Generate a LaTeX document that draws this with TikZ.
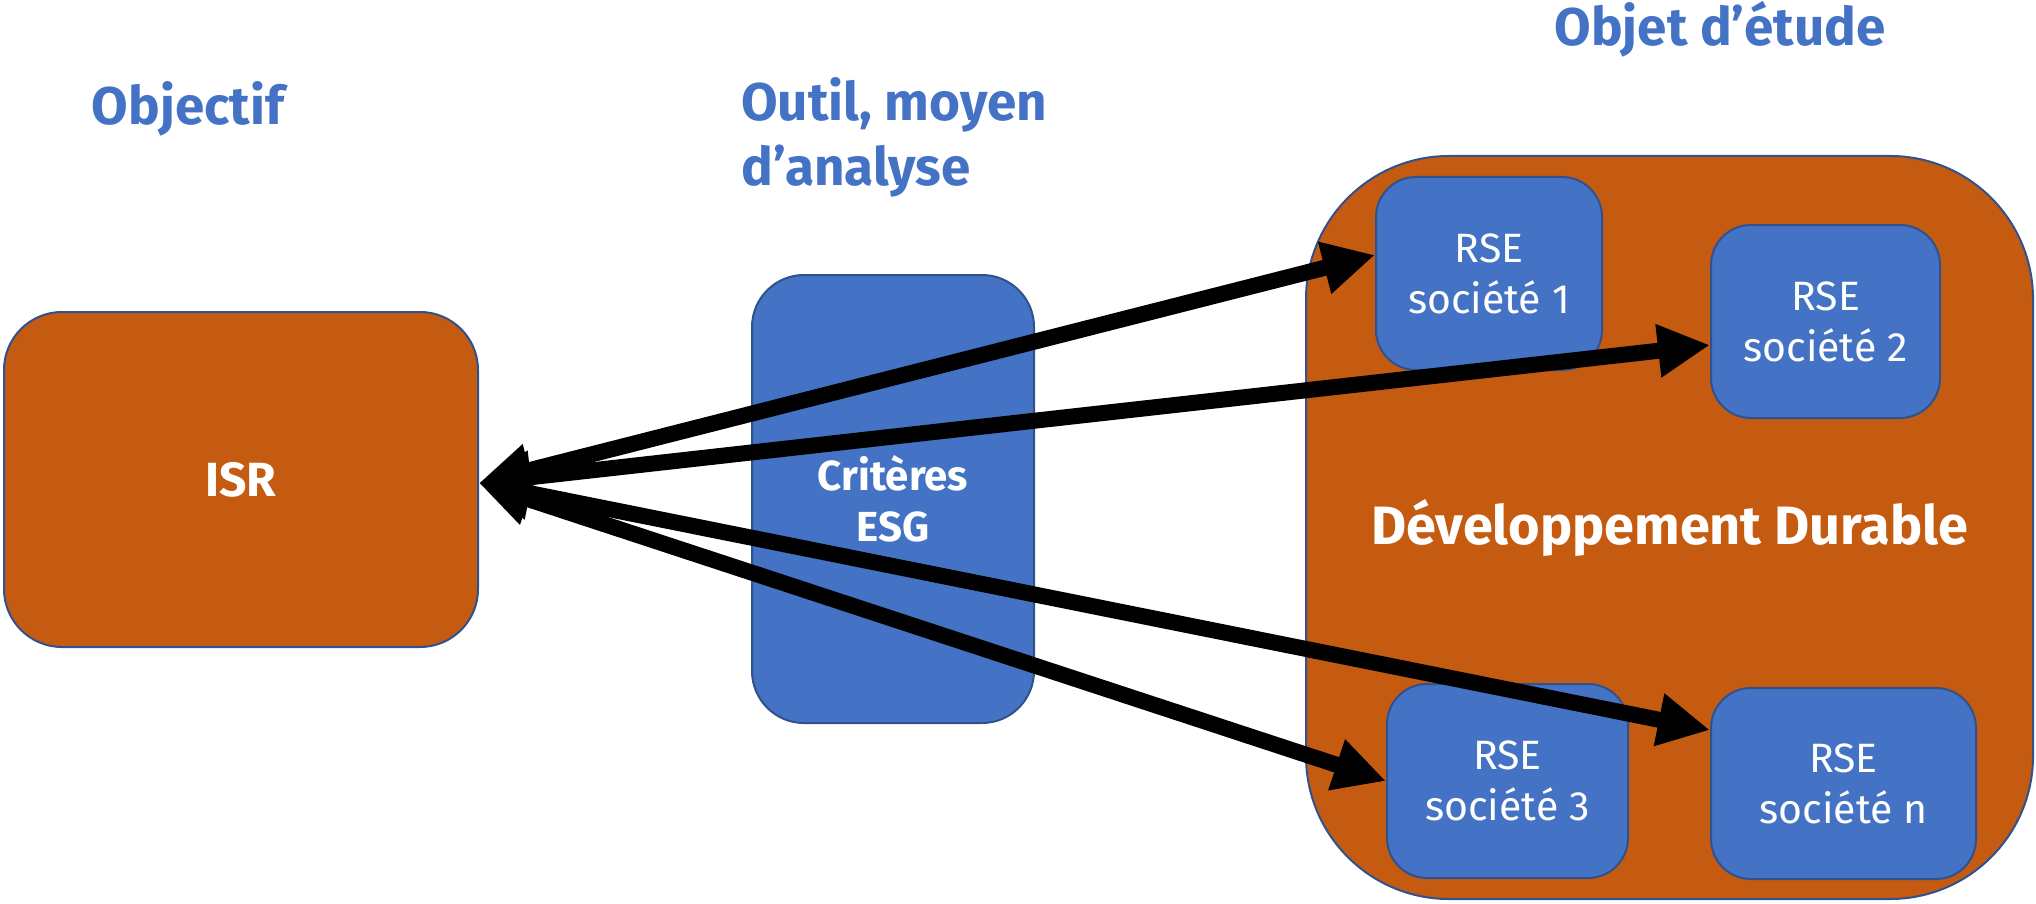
\documentclass[tikz,border=0pt]{standalone}
\usepackage{fontspec}
\setmainfont{Fira Sans}
\usetikzlibrary{arrows.meta}
\definecolor{accorange}{HTML}{C55A11}
\definecolor{accblue}{HTML}{4472C4}
\definecolor{edgeblue}{HTML}{2F528F}
\tikzset{
  obox/.style={draw=edgeblue, line width=2pt, fill=accorange, text=white, align=center, inner sep=0pt},
  bbox/.style={draw=edgeblue, line width=2pt, fill=accblue, text=white, align=center, inner sep=0pt},
  rsebox/.style={bbox, rounded corners=40pt, font=\fontsize{41}{51}\selectfont},
  heading/.style={text=accblue, font=\bfseries\fontsize{53}{65}\selectfont, inner sep=0pt},
  link/.style={line width=16pt, {Triangle[length=52pt,width=50pt]}-{Triangle[length=52pt,width=50pt]}}
}
\begin{document}
\begin{tikzpicture}[x=1pt,y=-1pt]
\useasboundingbox (0,0) rectangle (2036,904);
% headings
\node[heading] (hobj) at (188,109) {Objectif};
\node[heading, align=left, anchor=west] (hout) at (741,137) {Outil, moyen\\d’analyse};
\node[heading] (hetu) at (1720,29) {Objet d’étude};
% big box
\node[obox, rounded corners=143pt, minimum width=727pt, minimum height=743pt,
      font=\bfseries\fontsize{54}{64}\selectfont] (dd) at (1669.5,527.5) {\raisebox{-6pt}{Développement Durable}};
% RSE boxes
\node[rsebox, minimum width=226pt, minimum height=193pt] (rse1) at (1489,273.5) {RSE\\société 1};
\node[rsebox, minimum width=229pt, minimum height=193pt] (rse2) at (1825.5,321.5) {RSE\\société 2};
\node[rsebox, minimum width=241pt, minimum height=194pt] (rse3) at (1507.5,781) {RSE\\société 3};
\node[rsebox, minimum width=265pt, minimum height=191pt] (rsen) at (1843.5,783.5) {RSE\\société n};
% tool box
\node[bbox, rounded corners=52pt, minimum width=282pt, minimum height=448pt,
      font=\bfseries\fontsize{42}{51}\selectfont] (esg) at (893,499) {Critères\\ESG};
% ISR box
\node[obox, rounded corners=58pt, minimum width=474pt, minimum height=335pt,
      font=\bfseries\fontsize{48}{58}\selectfont] (isr) at (241,479.5) {ISR};
% arrows
\draw[link] ([yshift=-3.5pt]isr.east) -- ([yshift=18.5pt]rse1.west);
\draw[link] ([yshift=-3.5pt]isr.east) -- ([yshift=-23.5pt]rse2.west);
\draw[link] ([yshift=-3.5pt]isr.east) -- ([yshift=53.5pt]rsen.west);
\draw[link] ([yshift=-3.5pt]isr.east) -- (rse3.west);
\end{tikzpicture}
\end{document}
